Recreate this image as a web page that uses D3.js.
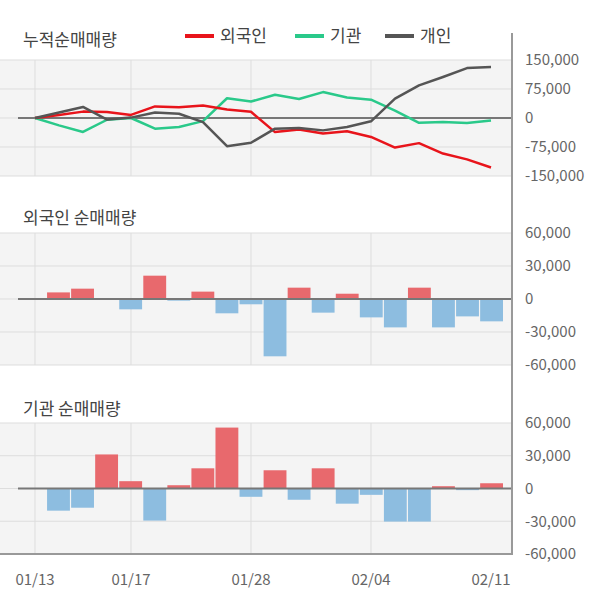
<!DOCTYPE html>
<html>
<head>
<meta charset="utf-8">
<script src="https://cdn.jsdelivr.net/npm/d3@7"></script>
<style>
  body { margin: 0; background: #fff; }
  svg { display: block; font-family: "Noto Sans CJK KR", "Noto Sans", sans-serif; }
</style>
</head>
<body>
<svg id="chart" width="600" height="604"></svg>
<script>
// trading days
var dates = ["01/13","01/14","01/15","01/16","01/17","01/20","01/21","01/22","01/23","01/28",
             "01/29","01/30","01/31","02/03","02/04","02/05","02/06","02/07","02/10","02/11"];
var tickDates = ["01/13","01/17","01/28","02/04","02/11"];

// cumulative net buying (top panel)
var cumForeign = [0, 8000, 16500, 15500, 8000, 30000, 28000, 32500, 22000, 16000,
                  -36500, -30000, -40000, -34500, -49000, -76500, -65000, -92000, -107000, -128000];
var cumInst = [0, -19000, -36000, -4500, 0, -27500, -23500, -8000, 51000, 42500,
               60000, 49000, 67000, 53000, 47500, 19000, -12500, -10500, -13000, -6500];
var cumIndiv = [0, 14000, 28500, -4000, 1000, 14000, 11000, -10500, -73000, -64000,
                -27500, -26000, -32000, -23500, -8500, 50000, 84500, 106000, 129000, 132000];

// daily net buying
var dayForeign = [0, 6000, 9400, 0, -9400, 21200, -1500, 6700, -13000, -4800,
                  -52100, 10300, -12400, 4800, -16700, -25800, 10300, -25800, -15800, -20300];
var dayInst = [0, -20300, -17600, 31200, 6700, -29400, 3000, 18500, 55800, -7600,
               16700, -10300, 18500, -13900, -5800, -30300, -30300, 2100, -1500, 4800];

var cumTicks = [150000, 75000, 0, -75000, -150000];
var dayTicks = [60000, 30000, 0, -30000, -60000];

var svg = d3.select("#chart");
var fmt = d3.formatLocale({decimal: ".", thousands: ",", grouping: [3], currency: ["", ""], minus: "-"}).format(",");

var x = d3.scalePoint().domain(dates).range([35, 491]);
var band = d3.scaleBand().domain(dates).range([23, 503]).paddingInner(0.05);

var plotL = 0, plotR = 512;

var colRed = "#e8141b", colGreen = "#2ac98a", colDark = "#555555";
var barUp = "#e8696d", barDown = "#8dbde0";

function panel(top, bottom, domain, ticks, title, titleY) {
  var y = d3.scaleLinear().domain(domain).range([bottom, top]);
  var g = svg.append("g");
  g.append("rect").attr("x", plotL).attr("y", top).attr("width", plotR - plotL)
    .attr("height", bottom - top).attr("fill", "#f4f4f4");
  // horizontal grid
  g.selectAll(".hg").data(ticks).enter().append("line")
    .attr("x1", plotL).attr("x2", plotR)
    .attr("y1", function(d) { return y(d); }).attr("y2", function(d) { return y(d); })
    .attr("stroke", "#dddddd").attr("stroke-width", 1);
  // vertical grid
  g.selectAll(".vg").data(tickDates.slice(0, 4)).enter().append("line")
    .attr("x1", function(d) { return x(d); }).attr("x2", function(d) { return x(d); })
    .attr("y1", top).attr("y2", bottom)
    .attr("stroke", "#dddddd").attr("stroke-width", 1);
  // right tick labels
  g.selectAll(".tl").data(ticks).enter().append("text")
    .attr("x", 525).attr("y", function(d) { return y(d); })
    .attr("dy", "0.35em").attr("font-size", 15).attr("fill", "#666")
    .text(function(d) { return fmt(d); });
  svg.append("text").attr("x", 23).attr("y", titleY).attr("font-size", 17)
    .attr("fill", "#444").text(title);
  return {y: y, g: g};
}

// top panel: cumulative lines
var p1 = panel(60, 176, [-150000, 150000], cumTicks, "누적순매매량", 46);
p1.g.append("line").attr("x1", 18).attr("x2", plotR).attr("y1", p1.y(0)).attr("y2", p1.y(0))
  .attr("stroke", "#777").attr("stroke-width", 2);
var line = d3.line().x(function(d, i) { return x(dates[i]); }).y(function(d) { return p1.y(d); });
[[cumInst, colGreen], [cumForeign, colRed], [cumIndiv, colDark]].forEach(function(s) {
  p1.g.append("path").datum(s[0]).attr("d", line).attr("fill", "none")
    .attr("stroke", s[1]).attr("stroke-width", 2.5).attr("stroke-linejoin", "round");
});

// legend
var legend = [["외국인", colRed, 185], ["기관", colGreen, 295], ["개인", colDark, 385]];
legend.forEach(function(l) {
  svg.append("line").attr("x1", l[2]).attr("x2", l[2] + 29).attr("y1", 36).attr("y2", 36)
    .attr("stroke", l[1]).attr("stroke-width", 4);
  svg.append("text").attr("x", l[2] + 35).attr("y", 42).attr("font-size", 17)
    .attr("fill", "#444").text(l[0]);
});

function bars(p, vals) {
  p.g.selectAll(".bar").data(vals).enter().append("rect")
    .attr("x", function(d, i) { return band(dates[i]); })
    .attr("width", band.bandwidth())
    .attr("y", function(d) { return d >= 0 ? p.y(d) : p.y(0); })
    .attr("height", function(d) { return Math.abs(p.y(d) - p.y(0)); })
    .attr("fill", function(d) { return d >= 0 ? barUp : barDown; });
  p.g.append("line").attr("x1", 18).attr("x2", plotR).attr("y1", p.y(0)).attr("y2", p.y(0))
    .attr("stroke", "#777").attr("stroke-width", 2);
}

var p2 = panel(233, 365, [-60000, 60000], dayTicks, "외국인 순매매량", 224);
bars(p2, dayForeign);

var p3 = panel(423, 554, [-60000, 60000], dayTicks, "기관 순매매량", 415);
bars(p3, dayInst);

// bottom border and right axis
svg.append("line").attr("x1", 0).attr("x2", plotR).attr("y1", 554).attr("y2", 554)
  .attr("stroke", "#999").attr("stroke-width", 2);
svg.append("line").attr("x1", plotR).attr("x2", plotR).attr("y1", 33).attr("y2", 555)
  .attr("stroke", "#999").attr("stroke-width", 2);

// x labels
svg.selectAll(".xl").data(tickDates).enter().append("text")
  .attr("x", function(d) { return x(d); }).attr("y", 585)
  .attr("text-anchor", "middle").attr("font-size", 15).attr("fill", "#666")
  .text(function(d) { return d; });
</script>
</body>
</html>
